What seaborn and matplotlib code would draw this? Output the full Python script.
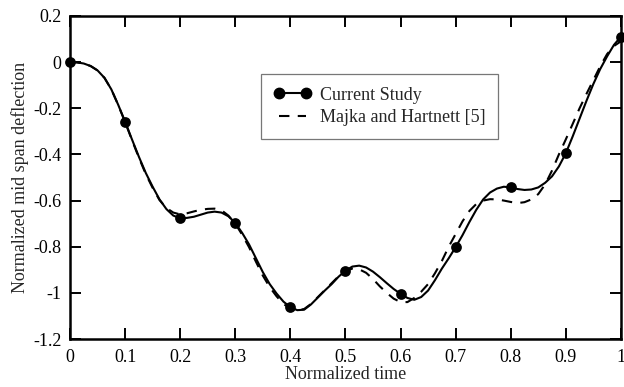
import numpy as np
import pandas as pd
import matplotlib
matplotlib.use("Agg")
import matplotlib.pyplot as plt
from matplotlib.lines import Line2D
import seaborn as sns

# Normalized time grid for the traced curves (step 0.0125)
t = [0.0, 0.0125, 0.025, 0.0375, 0.05, 0.0625, 0.075, 0.0875,
     0.1, 0.1125, 0.125, 0.1375, 0.15, 0.1625, 0.175, 0.1875,
     0.2, 0.2125, 0.225, 0.2375, 0.25, 0.2625, 0.275, 0.2875,
     0.3, 0.3125, 0.325, 0.3375, 0.35, 0.3625, 0.375, 0.3875,
     0.4, 0.4125, 0.425, 0.4375, 0.45, 0.4625, 0.475, 0.4875,
     0.5, 0.5125, 0.525, 0.5375, 0.55, 0.5625, 0.575, 0.5875,
     0.6, 0.6125, 0.625, 0.6375, 0.65, 0.6625, 0.675, 0.6875,
     0.7, 0.7125, 0.725, 0.7375, 0.75, 0.7625, 0.775, 0.7875,
     0.8, 0.8125, 0.825, 0.8375, 0.85, 0.8625, 0.875, 0.8875,
     0.9, 0.9125, 0.925, 0.9375, 0.95, 0.9625, 0.975, 0.9875,
     1.0]

# Current study: normalized mid span deflection
current = [0.0, -0.001, -0.006, -0.017, -0.036, -0.068, -0.118, -0.185,
           -0.258, -0.335, -0.410, -0.480, -0.540, -0.595, -0.637, -0.665,
           -0.677, -0.675, -0.670, -0.661, -0.652, -0.648, -0.652, -0.668,
           -0.697, -0.740, -0.790, -0.850, -0.910, -0.962, -1.003, -1.038,
           -1.062, -1.075, -1.073, -1.050, -1.020, -0.990, -0.962, -0.930,
           -0.904, -0.886, -0.882, -0.890, -0.908, -0.932, -0.958, -0.983,
           -1.004, -1.022, -1.030, -1.018, -0.990, -0.945, -0.895, -0.850,
           -0.802, -0.750, -0.693, -0.640, -0.595, -0.565, -0.548, -0.540,
           -0.543, -0.550, -0.554, -0.552, -0.543, -0.523, -0.495, -0.452,
           -0.395, -0.322, -0.245, -0.168, -0.095, -0.030, 0.025, 0.075,
           0.110]

# Majka and Hartnett [5]
majka = [0.0, -0.001, -0.006, -0.017, -0.036, -0.068, -0.118, -0.186,
         -0.260, -0.338, -0.414, -0.485, -0.545, -0.598, -0.632, -0.652,
         -0.660, -0.655, -0.647, -0.640, -0.636, -0.635, -0.642, -0.665,
         -0.700, -0.748, -0.802, -0.865, -0.925, -0.975, -1.015, -1.048,
         -1.068, -1.076, -1.070, -1.048, -1.018, -0.988, -0.958, -0.928,
         -0.905, -0.895, -0.898, -0.913, -0.940, -0.972, -1.000, -1.025,
         -1.040, -1.040, -1.022, -0.995, -0.962, -0.915, -0.862, -0.800,
         -0.745, -0.690, -0.645, -0.615, -0.600, -0.594, -0.595, -0.600,
         -0.606, -0.611, -0.607, -0.595, -0.572, -0.530, -0.470, -0.400,
         -0.335, -0.268, -0.200, -0.138, -0.078, -0.018, 0.035, 0.070,
         0.090]

# Marked samples of the current study
t_marks = [0.0, 0.1, 0.2, 0.3, 0.4, 0.5, 0.6, 0.7, 0.8, 0.9, 1.0]
current_marks = [0.0, -0.258, -0.677, -0.697, -1.062, -0.904, -1.004, -0.802,
                 -0.543, -0.395, 0.110]

x_ticks = [0, 0.1, 0.2, 0.3, 0.4, 0.5, 0.6, 0.7, 0.8, 0.9, 1]
x_ticklabels = ["0", "0.1", "0.2", "0.3", "0.4", "0.5", "0.6", "0.7", "0.8", "0.9", "1"]
y_ticks = [0.2, 0, -0.2, -0.4, -0.6, -0.8, -1, -1.2]
y_ticklabels = ["0.2", "0", "-0.2", "-0.4", "-0.6", "-0.8", "-1", "-1.2"]

curves = pd.DataFrame({"t": t, "current": current, "majka": majka})
marks = pd.DataFrame({"t": t_marks, "v": current_marks})

sns.set_style("ticks")
plt.rcParams["font.family"] = ["Liberation Serif", "DejaVu Serif"]
fs = 13

fig = plt.figure(figsize=(6.24, 3.87), dpi=100)
ax = fig.add_axes([0.1122, 0.124, 0.8828, 0.8347])

lw = 1.5
dash = (0, (5, 4))
sns.lineplot(data=curves, x="t", y="majka", ax=ax, color="black", lw=lw,
             linestyle=dash, sort=False)
sns.lineplot(data=curves, x="t", y="current", ax=ax, color="black", lw=lw,
             sort=False)
sns.scatterplot(data=marks, x="t", y="v", ax=ax, color="black", s=60,
                edgecolor="black", linewidth=0, zorder=5, clip_on=False)

ax.set_xlim(0, 1)
ax.set_ylim(-1.2, 0.2)
ax.set_xticks(x_ticks)
ax.set_xticklabels(x_ticklabels)
ax.set_yticks(y_ticks)
ax.set_yticklabels(y_ticklabels)
ax.set_xlabel("Normalized time", fontsize=fs, labelpad=0)
ax.set_ylabel("Normalized mid span deflection", fontsize=fs, labelpad=3)

for side in ["left", "right", "top", "bottom"]:
    ax.spines[side].set_visible(True)
    ax.spines[side].set_linewidth(1.8)
    ax.spines[side].set_color("black")
ax.tick_params(direction="in", length=8, width=1.4, top=True, right=True,
               colors="black", labelsize=fs)
ax.tick_params(axis="x", pad=7)
ax.tick_params(axis="y", pad=6)

handles = [
    Line2D([0], [0], color="black", lw=lw, marker="o", markersize=7.5),
    Line2D([0], [0], color="black", lw=lw, linestyle=dash),
]
leg = ax.legend(handles, ["Current Study", "Majka and Hartnett [5]"],
                loc="upper left", bbox_to_anchor=(0.347, 0.82), numpoints=2,
                frameon=True, fancybox=False, shadow=False, fontsize=fs,
                handlelength=2.1, handletextpad=0.45, borderpad=0.7,
                labelspacing=0.3, borderaxespad=0)
leg.get_frame().set_edgecolor("#555555")
leg.get_frame().set_linewidth(0.9)

fig.savefig("out.png", dpi=100, facecolor="white")
